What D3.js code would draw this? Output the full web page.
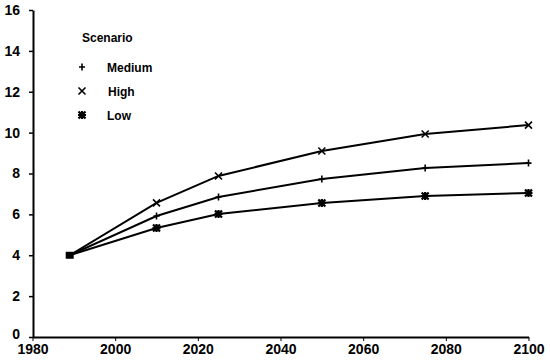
<!DOCTYPE html>
<html><head><meta charset="utf-8">
<script src="https://cdn.jsdelivr.net/npm/d3@7"></script>
<style>body{margin:0;background:#fff}svg{display:block}text{font-family:"Liberation Sans",Arial,sans-serif;font-weight:bold;fill:#000}</style>
</head><body><svg id="c" width="550" height="360"></svg>
<script>
const years = [1989, 2010, 2025, 2050, 2075, 2100];
const medium = [4.0, 5.92, 6.85, 7.73, 8.27, 8.51];
const high = [4.0, 6.56, 7.88, 9.10, 9.93, 10.37];
const low = [4.0, 5.33, 6.02, 6.56, 6.90, 7.05];
const seriesNames = ["Medium", "High", "Low"];
const xTicks = [1980, 2000, 2020, 2040, 2060, 2080, 2100];
const yTicks = [0, 2, 4, 6, 8, 10, 12, 14, 16];
const legendTitle = "Scenario";

const svg = d3.select("#c");
const x = d3.scaleLinear().domain([1980, 2100]).range([32.5, 528.5]);
const y = d3.scaleLinear().domain([0, 16]).range([337, 10]);

const yAxis = d3.axisLeft(y).tickValues(yTicks).tickFormat(d3.format("d")).tickSize(4).tickPadding(9).tickSizeOuter(0);
const gy = svg.append("g").attr("transform", "translate(33,0)").call(yAxis);
gy.select(".domain").attr("stroke-width", 2);
gy.selectAll(".tick line").attr("stroke-width", 1.5);
gy.selectAll("text").style("font-size", "14px");
gy.selectAll(".tick").filter(d => d === 0).select("text").attr("dy", "0.1em");

const xAxis = d3.axisBottom(x).tickValues(xTicks).tickFormat(d3.format("d")).tickSize(4).tickPadding(3).tickSizeOuter(0);
const gx = svg.append("g").attr("transform", "translate(0,337)").call(xAxis);
gx.select(".domain").attr("stroke-width", 2);
gx.selectAll(".tick line").attr("stroke-width", 1);
gx.selectAll("text").style("font-size", "14px");

const data = [medium, high, low];
const line = d3.line().x((d, i) => x(years[i])).y(d => y(d));
data.forEach(s => {
  svg.append("path").attr("d", line(s)).attr("fill", "none").attr("stroke", "#000").attr("stroke-width", 2);
});

function marker(g, type, cx, cy) {
  const p = g.append("path").attr("transform", `translate(${cx},${cy})`).attr("fill", "none").attr("stroke", "#000");
  if (type === 0) p.attr("d", "M-3,0H3M0,-3.5V3.5").attr("stroke-width", 1.6);
  else if (type === 1) p.attr("d", "M-3.5,-3.5L3.5,3.5M-3.5,3.5L3.5,-3.5").attr("stroke-width", 1.6);
  else p.attr("d", "M-3.5,-3.5L3.5,3.5M-3.5,3.5L3.5,-3.5M-4,0H4M0,-4V4").attr("stroke-width", 2.2);
}
data.forEach((s, k) => {
  s.forEach((v, i) => { if (i > 0) marker(svg, k, x(years[i]), y(v)); });
});
svg.append("rect").attr("x", x(years[0]) - 4).attr("y", y(4) - 3.5).attr("width", 8).attr("height", 7).attr("fill", "#000");

const lg = svg.append("g");
lg.append("text").attr("x", 82).attr("y", 42).style("font-size", "12px").text(legendTitle);
seriesNames.forEach((n, k) => {
  const cy = 67 + k * 24;
  marker(lg, k, 82, cy);
  lg.append("text").attr("x", k === 1 ? 108 : 107).attr("y", cy + 4.5).style("font-size", "12px").text(n);
});
</script></body></html>
